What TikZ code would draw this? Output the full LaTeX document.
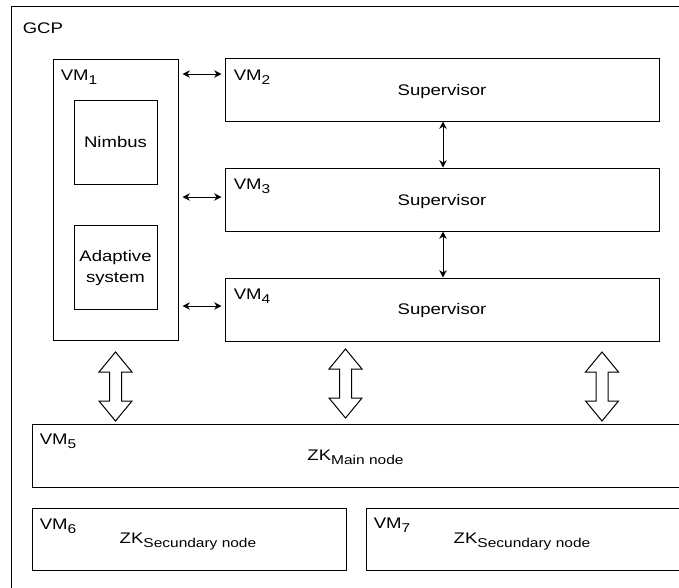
\documentclass[tikz,border=0pt]{standalone}
\usepackage{fontspec}
\setmainfont{Liberation Sans}[FakeStretch=1.21]
\usetikzlibrary{arrows.meta,fit}
\newcommand\mysub[1]{\raisebox{-3pt}{\fontsize{9.6}{10}\selectfont #1}}
\newcommand\hollowarrow[3]{%
  \draw[hollow] (#1,#2) -- ({#1+16.5},{#2+20}) -- ({#1+6},{#2+20}) -- ({#1+6},{#3-20})
    -- ({#1+16.5},{#3-20}) -- (#1,#3) -- ({#1-16.5},{#3-20}) -- ({#1-6},{#3-20})
    -- ({#1-6},{#2+20}) -- ({#1-16.5},{#2+20}) -- cycle;}
\begin{document}
\begin{tikzpicture}[x=0.75pt,y=-0.75pt,
  every node/.style={font=\fontsize{11.5}{15.5}\selectfont},
  box/.style={draw, line width=0.75pt, inner sep=0pt},
  lbl/.style={inner sep=0pt, anchor=base west},
  txt/.style={inner sep=0pt, anchor=base},
  link/.style={{Stealth[length=5.5pt,width=5.5pt]}-{Stealth[length=5.5pt,width=5.5pt]}, line width=0.75pt},
  hollow/.style={draw, line width=0.75pt, fill=white, line join=miter}]
\useasboundingbox (0,0) rectangle (679,587);
\clip (0,0) rectangle (679,587);
% outer GCP frame
\node[box, fit={(11,6) (700,600)}] (gcp) {};
\node[lbl] (gcpl) at (22.5,33) {GCP};
% VM1
\node[box, fit={(53,59) (178,340)}] (vm1) {};
\node[lbl] (vm1l) at (60.5,80.5) {VM\mysub{1}};
\node[box, fit={(74,100) (157,184)}] (nim) {};
\node[txt] (niml) at (115.5,147) {Nimbus};
\node[box, fit={(74,225) (157,309)}] (ada) {};
\node[inner sep=0pt, align=center] (adal) at (115.5,268) {Adaptive\\system};
% VM2-VM4
\node[box, fit={(225,58) (659,121)}] (vm2) {};
\node[lbl] (vm2l) at (233.5,80.5) {VM\mysub{2}};
\node[txt] (sup2) at (442,95) {Supervisor};
\node[box, fit={(225,168) (659,231)}] (vm3) {};
\node[lbl] (vm3l) at (233.5,189.5) {VM\mysub{3}};
\node[txt] (sup3) at (442,205) {Supervisor};
\node[box, fit={(225,278) (659,341)}] (vm4) {};
\node[lbl] (vm4l) at (233.5,299.5) {VM\mysub{4}};
\node[txt] (sup4) at (442,314.5) {Supervisor};
% VM5-VM7
\node[box, fit={(32,424) (682,487)}] (vm5) {};
\node[lbl] (vm5l) at (39.5,444.5) {VM\mysub{5}};
\node[txt] (zkm) at (355.5,460.5) {ZK\mysub{Main node}};
\node[box, fit={(32,508) (346,570)}] (vm6) {};
\node[lbl] (vm6l) at (39.5,529.5) {VM\mysub{6}};
\node[txt] (zk6) at (188,543.5) {ZK\mysub{Secundary node}};
\node[box, fit={(366,508) (682,570)}] (vm7) {};
\node[lbl] (vm7l) at (373.5,528.5) {VM\mysub{7}};
\node[txt] (zk7) at (522,543.5) {ZK\mysub{Secundary node}};
% small double arrows
\coordinate (h1) at (0,74);
\coordinate (h2) at (0,197);
\coordinate (h3) at (0,306);
\coordinate (vx) at (443,0);
\draw[link, shorten <=3pt, shorten >=2.25pt] (vm1.east |- h1) -- (vm2.west |- h1);
\draw[link, shorten <=3pt, shorten >=2.25pt] (vm1.east |- h2) -- (vm3.west |- h2);
\draw[link, shorten <=3pt, shorten >=2.25pt] (vm1.east |- h3) -- (vm4.west |- h3);
\draw[link] (vm2.south -| vx) -- (vm3.north -| vx);
\draw[link] (vm3.south -| vx) -- (vm4.north -| vx);
% hollow block arrows
\hollowarrow{115.5}{352}{421}
\hollowarrow{345.5}{349}{418}
\hollowarrow{602}{352}{421}
\end{tikzpicture}
\end{document}
